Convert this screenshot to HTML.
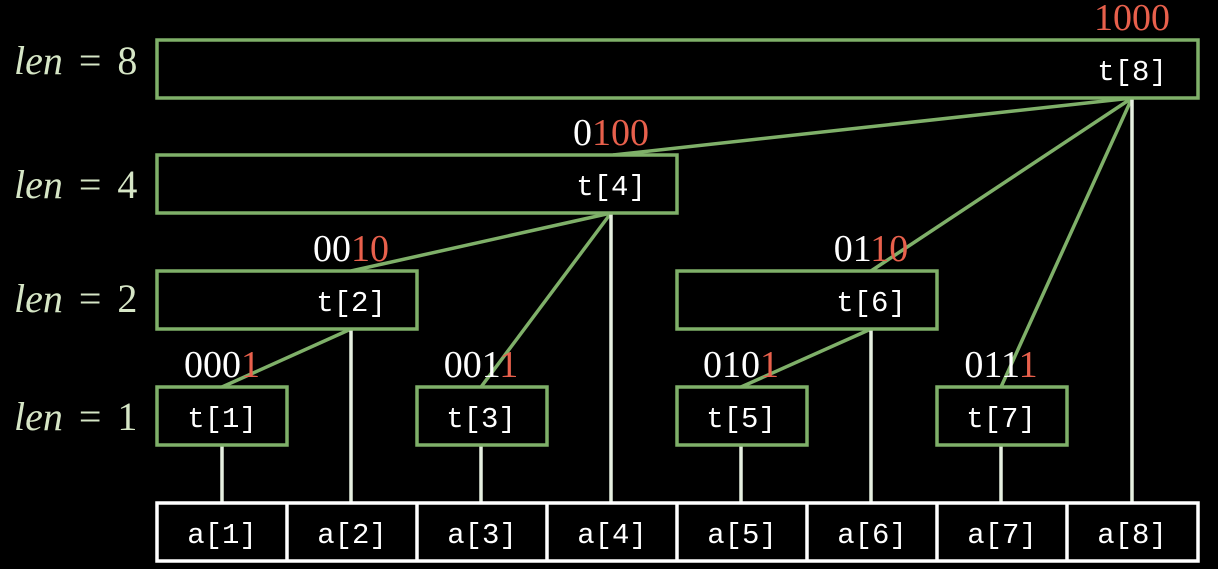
<!DOCTYPE html>
<html><head><style>
body{margin:0;background:#000;}
svg{display:block}
.m{font-family:"Liberation Mono",monospace;font-size:29px;fill:#fff;text-anchor:middle}
.b{font-family:"Liberation Serif",serif;font-size:38px;fill:#fff;text-anchor:middle}
.r{fill:#e8604c}
.l{font-family:"Liberation Serif",serif;font-size:40px;fill:#d6e6c6;word-spacing:6px}
</style></head><body>
<svg width="1218" height="569" viewBox="0 0 1218 569">
<g stroke="#7fb069" stroke-width="3.5" fill="none">
<line x1="1132" y1="98" x2="613" y2="155"/>
<line x1="1132" y1="98" x2="871" y2="271"/>
<line x1="1132" y1="98" x2="1001" y2="387"/>
<line x1="611" y1="213" x2="351" y2="271"/>
<line x1="611" y1="213" x2="481" y2="387"/>
<line x1="351" y1="329" x2="222" y2="387"/>
<line x1="871" y1="329" x2="741" y2="387"/>
</g>
<g stroke="#e6efe0" stroke-width="3.5">
<line x1="1132" y1="98" x2="1132" y2="503"/>
<line x1="611" y1="213" x2="611" y2="503"/>
<line x1="351" y1="329" x2="351" y2="503"/>
<line x1="871" y1="329" x2="871" y2="503"/>
<line x1="222" y1="445" x2="222" y2="503"/>
<line x1="481" y1="445" x2="481" y2="503"/>
<line x1="741" y1="445" x2="741" y2="503"/>
<line x1="1001" y1="445" x2="1001" y2="503"/>
</g>
<g stroke="#7fb069" stroke-width="3.5" fill="#000">
<rect x="157" y="40" width="1041" height="58"/>
<rect x="157" y="155" width="520" height="58"/>
<rect x="157" y="271" width="260" height="58"/>
<rect x="677" y="271" width="260" height="58"/>
<rect x="157" y="387" width="130" height="58"/>
<rect x="417" y="387" width="130" height="58"/>
<rect x="677" y="387" width="130" height="58"/>
<rect x="937" y="387" width="130" height="58"/>
</g>
<g stroke="#fff" stroke-width="3.5" fill="#000">
<rect x="157" y="503" width="1041" height="58"/>
<line x1="287" y1="503" x2="287" y2="561"/><line x1="417" y1="503" x2="417" y2="561"/>
<line x1="547" y1="503" x2="547" y2="561"/><line x1="677" y1="503" x2="677" y2="561"/>
<line x1="807" y1="503" x2="807" y2="561"/><line x1="937" y1="503" x2="937" y2="561"/>
<line x1="1067" y1="503" x2="1067" y2="561"/>
</g>
<g class="m">
<text x="1132" y="80">t[8]</text><text x="611" y="195">t[4]</text>
<text x="351" y="311">t[2]</text><text x="871" y="311">t[6]</text>
<text x="222" y="427">t[1]</text><text x="481" y="427">t[3]</text>
<text x="741" y="427">t[5]</text><text x="1001" y="427">t[7]</text>
<text x="222" y="543">a[1]</text><text x="352" y="543">a[2]</text><text x="482" y="543">a[3]</text><text x="612" y="543">a[4]</text>
<text x="742" y="543">a[5]</text><text x="872" y="543">a[6]</text><text x="1002" y="543">a[7]</text><text x="1132" y="543">a[8]</text>
</g>
<g class="b">
<text x="1132" y="30"><tspan class="r">1000</tspan></text>
<text x="611" y="145">0<tspan class="r">100</tspan></text>
<text x="351" y="261">00<tspan class="r">10</tspan></text>
<text x="871" y="261">01<tspan class="r">10</tspan></text>
<text x="222" y="377">000<tspan class="r">1</tspan></text>
<text x="481" y="377">001<tspan class="r">1</tspan></text>
<text x="741" y="377">010<tspan class="r">1</tspan></text>
<text x="1001" y="377">011<tspan class="r">1</tspan></text>
</g>
<g class="l">
<text x="14" y="74"><tspan font-style="italic">len</tspan> = 8</text>
<text x="14" y="198"><tspan font-style="italic">len</tspan> = 4</text>
<text x="14" y="312"><tspan font-style="italic">len</tspan> = 2</text>
<text x="14" y="430"><tspan font-style="italic">len</tspan> = 1</text>
</g>
</svg>
</body></html>
